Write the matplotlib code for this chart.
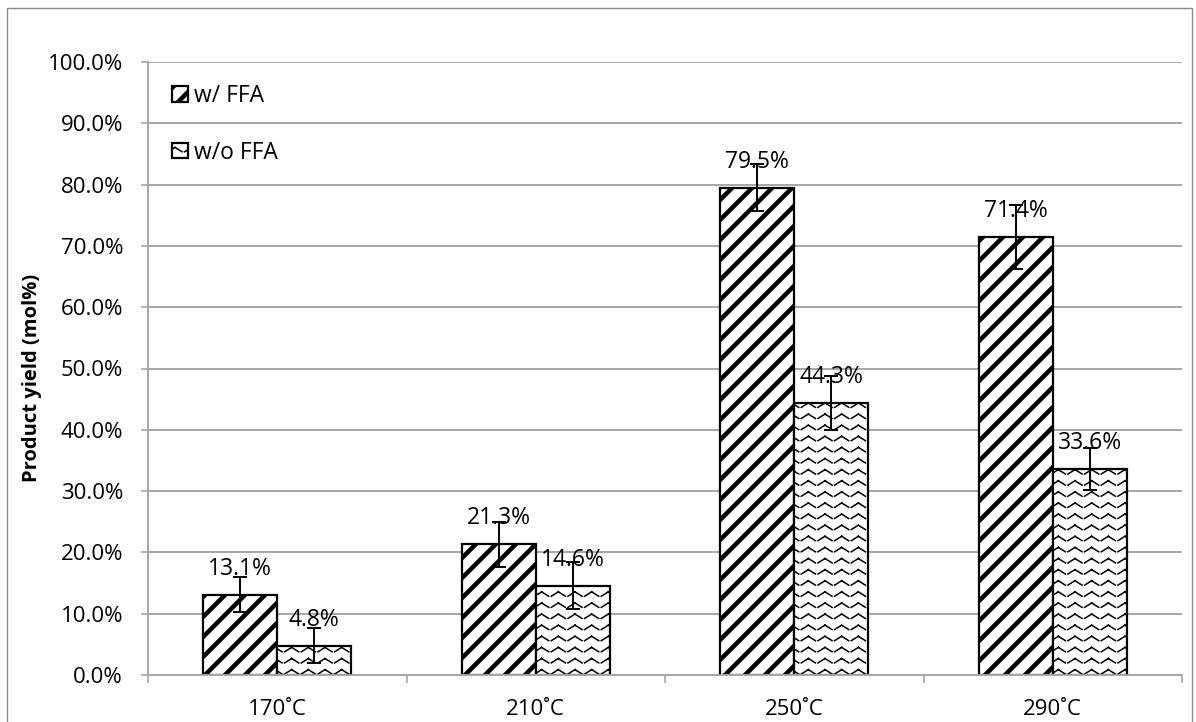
import numpy as np
import matplotlib
matplotlib.use("Agg")
import matplotlib.pyplot as plt
from matplotlib import hatch as mhatch
from matplotlib.path import Path
from matplotlib.patches import Rectangle
from matplotlib.ticker import FixedLocator, FuncFormatter

# ---- data -------------------------------------------------------------
categories = ["170˚C", "210˚C", "250˚C", "290˚C"]
series_names = ["w/ FFA", "w/o FFA"]
yield_with_ffa = [13.1, 21.3, 79.5, 71.4]
yield_without_ffa = [4.8, 14.6, 44.3, 33.6]
err_with_ffa = [2.9, 3.7, 3.8, 5.2]
err_without_ffa = [2.9, 3.9, 4.4, 3.4]
y_ticks = [0, 10, 20, 30, 40, 50, 60, 70, 80, 90, 100]
y_label = "Product yield (mol%)"


# ---- custom fill patterns ---------------------------------------------
class DiagonalBandHatch(mhatch.HatchPatternBase):
    """Thick solid bands running from lower left to upper right ('/')."""

    def __init__(self, hatch, density):
        self.num_bands = 5 if "/" in hatch else 0
        self.num_vertices = (2 * self.num_bands + 1) * 5 if self.num_bands else 0

    def set_vertices_and_codes(self, vertices, codes):
        hw = 0.021
        t0, t1 = -0.1, 1.1
        i = 0
        for k in range(-self.num_bands, self.num_bands + 1):
            c = k / self.num_bands
            vertices[i:i + 5] = [(c - hw + t0, t0), (c + hw + t0, t0),
                                 (c + hw + t1, t1), (c - hw + t1, t1),
                                 (c - hw + t0, t0)]
            codes[i:i + 5] = [Path.MOVETO, Path.LINETO, Path.LINETO,
                              Path.LINETO, Path.CLOSEPOLY]
            i += 5


class WaveHatch(mhatch.HatchPatternBase):
    """Rows of small zigzag waves ('|')."""

    def __init__(self, hatch, density):
        self.rows = 9 if "|" in hatch else 0
        self.periods = 6
        self.num_vertices = self.rows * self.periods * 2 * 2

    def set_vertices_and_codes(self, vertices, codes):
        amp = 0.026
        n = 2 * self.periods
        i = 0
        for r in range(self.rows):
            y0 = (r + 0.5) / self.rows
            for s in range(n):
                xa, xb = s / n, (s + 1) / n
                ya = y0 + (amp if s % 2 else -amp)
                yb = y0 + (amp if (s + 1) % 2 else -amp)
                # small gap at the lower turning points gives a broken stroke
                if s % 2 == 0:
                    xa, ya = xa + 0.15 * (xb - xa), ya + 0.15 * (yb - ya)
                else:
                    xb, yb = xb - 0.15 * (xb - xa), yb - 0.15 * (yb - ya)
                vertices[i] = (xa, ya)
                vertices[i + 1] = (xb, yb)
                codes[i] = Path.MOVETO
                codes[i + 1] = Path.LINETO
                i += 2


mhatch._hatch_types[:] = [DiagonalBandHatch, WaveHatch]

# ---- style ------------------------------------------------------------
plt.rcParams["font.family"] = ["Open Sans", "DejaVu Sans"]
plt.rcParams["hatch.linewidth"] = 1.1
plt.rcParams["hatch.color"] = "black"

grid_gray = "#a6a6a6"

fig = plt.figure(figsize=(11.96, 7.22), dpi=100)
ax = fig.add_axes([148 / 1196, 47 / 722, (1182 - 148) / 1196, (660 - 47) / 722])

x = np.arange(len(categories))
w = 0.286

bars_w = ax.bar(x - w / 2, yield_with_ffa, width=w, facecolor="white",
                edgecolor="black", linewidth=1.6, hatch="/",
                label=series_names[0], zorder=2)
bars_wo = ax.bar(x + w / 2, yield_without_ffa, width=w, facecolor="white",
                 edgecolor="black", linewidth=1.6, hatch="|",
                 label=series_names[1], zorder=2)

ax.errorbar(x - w / 2, yield_with_ffa, yerr=err_with_ffa, fmt="none",
            ecolor="black", elinewidth=1.4, capsize=5, capthick=1.4, zorder=4)
ax.errorbar(x + w / 2, yield_without_ffa, yerr=err_without_ffa, fmt="none",
            ecolor="black", elinewidth=1.4, capsize=5, capthick=1.4, zorder=4)

for xs, vals in ((x - w / 2, yield_with_ffa), (x + w / 2, yield_without_ffa)):
    for xi, v in zip(xs, vals):
        ax.annotate(f"{v:.1f}%", (xi, v), xytext=(0, 14.4),
                    textcoords="offset points", ha="center", va="baseline",
                    fontsize=16.5, color="black", zorder=3)

# axes
ax.set_xlim(-0.5, len(categories) - 0.5)
ax.set_ylim(0, 100)
ax.yaxis.set_major_locator(FixedLocator(y_ticks))
ax.yaxis.set_major_formatter(FuncFormatter(lambda v, p: f"{v:.1f}%"))
ax.set_xticks(x)
ax.set_xticklabels(categories)
ax.xaxis.set_minor_locator(FixedLocator(np.arange(len(categories) + 1) - 0.5))

ax.tick_params(axis="y", which="major", direction="out", length=5, width=1.2,
               color=grid_gray, pad=13, labelsize=16)
ax.tick_params(axis="x", which="major", length=0, pad=17, labelsize=16)
ax.tick_params(axis="x", which="minor", direction="out", length=5.5, width=1.2,
               color=grid_gray)

for side in ("top", "right"):
    ax.spines[side].set_visible(False)
for side in ("left", "bottom"):
    ax.spines[side].set_color(grid_gray)
    ax.spines[side].set_linewidth(1.4)

ax.grid(axis="y", color=grid_gray, linewidth=1.4)
ax.set_axisbelow(True)

ax.set_ylabel(y_label, fontsize=14.5, fontweight="bold")
ax.yaxis.set_label_coords(-0.112, 0.485)
ax.yaxis.label.set_va("center")

ax.legend(handles=[bars_w, bars_wo], loc="upper left",
          bbox_to_anchor=(0.0232, 0.964), frameon=False, fontsize=16.5,
          handlelength=0.68, handleheight=0.68, handletextpad=0.3,
          labelspacing=1.42, borderpad=0, borderaxespad=0)

# outer frame of the chart area
fig.patches.append(Rectangle((7 / 1196, -0.02), (1192 - 7) / 1196,
                             1 - 8 / 722 + 0.02, transform=fig.transFigure,
                             fill=False, edgecolor="#8c8c8c", linewidth=1.0))

fig.savefig("out.png", dpi=100)
